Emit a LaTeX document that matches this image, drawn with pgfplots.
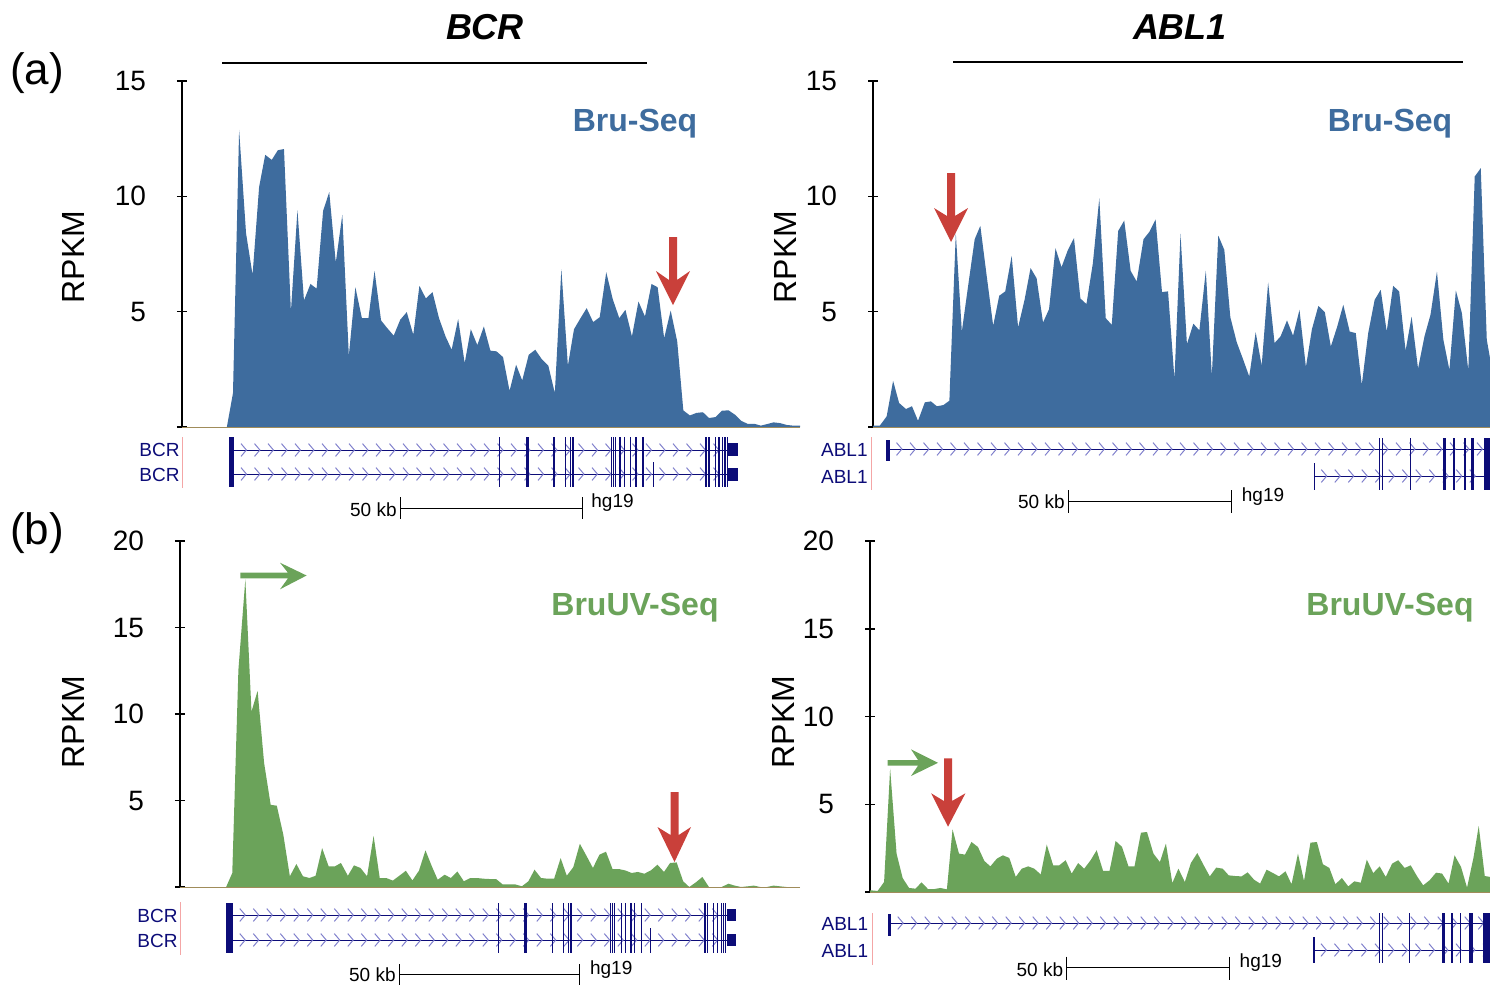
\documentclass[border=0pt]{standalone}
\usepackage{pgfplots}
\pgfplotsset{compat=1.18}
\usepackage{fontspec}
\setmainfont{Liberation Sans}
\usetikzlibrary{decorations.markings}
\definecolor{bru}{HTML}{3E6C9E}
\definecolor{uv}{HTML}{6BA35A}
\definecolor{arr}{HTML}{C9403A}
\definecolor{navy}{HTML}{0C0C78}
\definecolor{lav}{HTML}{8080CC}
\definecolor{pinkl}{HTML}{F4A6A6}
\definecolor{basec}{HTML}{A08C5A}
\tikzset{chev/.style={postaction={decorate},decoration={markings,
  mark=between positions 5pt and -2pt step 6.75pt with {\draw[lav,line width=0.5pt] (-1.5pt,3.2pt)--(1.2pt,0pt)--(-1.5pt,-3.2pt);}}}}
\pgfplotsset{track/.style={scale only axis, axis x line=none, axis y line=left,
  axis line style={-,line width=0.75pt,black}, tick align=center, major tick length=5pt,
  tick style={line width=0.75pt,black},
  yticklabel style={font=\fontsize{14}{16}\selectfont,anchor=east,xshift=-12pt},
  /pgf/number format/assume math mode=true, ymin=0, clip=true}}
\begin{document}
\begin{tikzpicture}
\useasboundingbox (0,0) rectangle (745pt,-492.5pt);
% ---------- A1: BCR Bru-Seq
\begin{axis}[track, at={(91pt,-213.5pt)}, anchor=south west, width=309pt, height=173pt,
  xmin=30, xmax=1545, ymax=15, ytick={0,5,10,15}, yticklabels={,5,10,15}]
\addplot[fill=bru,draw=none] coordinates {(30,0)(140,0)(155,1.47)(170,12.88)(187,8.4)(203,6.6)(219,10.4)(234,11.8)(250,11.58)(265,12.0)(280,12.05)(297,5.0)(313,9.4)(329,5.49)(345,6.2)(360,6.0)(376,9.38)(391,10.18)(407,7.13)(423,9.2)(439,3.09)(455,6.06)(471,4.72)(487,4.72)(502,6.77)(518,4.62)(533,4.29)(549,3.96)(565,4.65)(581,4.98)(597,4.0)(612,6.12)(628,5.57)(644,5.85)(660,4.72)(676,3.93)(691,3.35)(707,4.68)(723,2.77)(738,4.24)(754,3.55)(770,4.36)(786,3.31)(801,3.28)(817,3.03)(833,1.57)(849,2.7)(864,2.02)(880,3.13)(896,3.35)(912,2.94)(928,2.66)(944,1.47)(960,6.84)(976,2.66)(991,4.24)(1007,4.72)(1022,5.15)(1038,4.55)(1054,4.76)(1070,6.71)(1086,5.54)(1102,4.72)(1117,5.08)(1133,3.93)(1149,5.44)(1165,4.79)(1181,6.2)(1196,6.06)(1212,3.85)(1228,5.05)(1244,3.71)(1259,0.72)(1275,0.5)(1291,0.61)(1307,0.64)(1322,0.39)(1338,0.43)(1354,0.71)(1370,0.72)(1386,0.53)(1401,0.27)(1417,0.13)(1433,0.14)(1449,0.06)(1465,0.13)(1480,0.2)(1496,0.17)(1512,0.09)(1528,0.06)(1545,0.06)} \closedcycle;
\addplot[basec,line width=0.5pt] coordinates {(30,0)(1545,0)};
\end{axis}
% ---------- A2: ABL1 Bru-Seq
\begin{axis}[track, at={(436.5pt,-213.5pt)}, anchor=south west, width=308.5pt, height=173pt,
  xmin=33, xmax=1568, ymax=15, ytick={0,5,10,15}, yticklabels={,5,10,15}]
\addplot[fill=bru,draw=none] coordinates {(33,0.06)(50,0.06)(67,0.46)(83,2.0)(98,1.04)(115,0.78)(130,0.9)(145,0.27)(162,1.07)(177,1.11)(192,0.9)(208,0.95)(223,1.14)(239,8.4)(254,4.14)(270,6.16)(286,8.14)(300,8.72)(316,6.53)(332,4.39)(347,5.69)(362,5.88)(378,7.42)(394,4.32)(410,5.51)(425,6.89)(440,6.45)(456,4.53)(471,5.11)(487,7.75)(502,6.93)(518,7.68)(533,8.19)(549,5.57)(564,5.33)(580,7.1)(596,9.92)(612,4.72)(627,4.43)(643,8.5)(658,8.95)(674,6.77)(689,6.31)(706,8.14)(721,8.47)(736,9.0)(752,5.85)(767,5.88)(783,2.08)(798,8.37)(814,3.59)(830,4.48)(845,4.19)(861,6.78)(876,2.22)(892,8.3)(907,7.68)(922,4.76)(938,3.67)(954,2.92)(969,2.19)(985,4.11)(1000,2.66)(1016,6.27)(1032,3.64)(1047,3.93)(1063,4.62)(1078,3.96)(1094,5.08)(1110,2.6)(1125,4.24)(1141,5.25)(1157,4.98)(1172,3.49)(1188,4.36)(1203,5.3)(1219,4.14)(1234,4.07)(1249,1.83)(1265,4.07)(1281,5.51)(1296,5.95)(1311,4.14)(1327,6.12)(1342,5.88)(1358,3.31)(1373,4.79)(1389,2.53)(1405,3.93)(1420,4.87)(1436,6.74)(1452,3.78)(1467,2.48)(1483,5.92)(1498,4.94)(1514,2.45)(1530,10.86)(1545,11.22)(1560,3.78)(1568,2.99)} \closedcycle;
\addplot[basec,line width=0.5pt] coordinates {(33,0)(1568,0)};
\end{axis}
% ---------- B1: BCR BruUV-Seq
\begin{axis}[track, at={(90pt,-443.5pt)}, anchor=south west, width=310pt, height=173pt,
  xmin=27, xmax=1545, ymax=20, ytick={0,5,10,15,20}, yticklabels={,5,10,15,20}]
\addplot[fill=uv,draw=none] coordinates {(27,0)(140,0)(155,0.81)(170,12.55)(187,17.79)(202,10.14)(217,11.34)(233,7.16)(249,4.75)(264,4.7)(280,3.02)(296,0.62)(312,1.33)(328,0.62)(344,0.52)(359,0.65)(375,2.25)(391,1.19)(406,1.19)(421,1.39)(438,0.65)(453,1.25)(469,1.1)(485,0.62)(501,2.96)(516,0.52)(532,0.52)(548,0.37)(564,0.65)(580,0.94)(596,0.38)(612,0.94)(628,2.12)(643,1.23)(658,0.42)(675,0.71)(690,0.52)(706,0.9)(722,0.33)(738,0.52)(754,0.52)(770,0.48)(786,0.46)(801,0.46)(817,0.15)(833,0.15)(848,0.15)(864,0.04)(880,0.33)(895,1.0)(911,0.52)(927,0.48)(943,0.48)(959,1.67)(974,0.65)(990,1.15)(1006,2.5)(1022,1.81)(1038,1.1)(1054,1.87)(1070,2.04)(1086,1.04)(1101,1.04)(1117,0.96)(1133,0.81)(1148,0.87)(1164,0.77)(1180,0.96)(1196,1.29)(1212,0.87)(1227,1.39)(1243,1.42)(1259,0.33)(1274,0)(1290,0.27)(1306,0.58)(1322,0)(1338,0)(1353,0)(1370,0.19)(1385,0.08)(1401,0)(1417,0.04)(1432,0.08)(1448,0)(1464,0)(1480,0.08)(1496,0.04)(1512,0)(1545,0)} \closedcycle;
\addplot[basec,line width=0.5pt] coordinates {(27,0)(1545,0)};
\end{axis}
% ---------- B2: ABL1 BruUV-Seq
\begin{axis}[track, at={(435pt,-446pt)}, anchor=south west, width=310pt, height=175.5pt,
  xmin=28, xmax=1568, ymax=20, ytick={0,5,10,15,20}, yticklabels={,5,10,15,20}]
\addplot[fill=uv,draw=none] coordinates {(28,0.1)(47,0.06)(63,0.57)(78,7.03)(94,2.19)(109,0.8)(125,0.23)(141,0.19)(156,0.55)(172,0.17)(188,0.17)(203,0.23)(219,0.15)(233,3.57)(249,2.19)(264,2.13)(280,2.85)(296,2.57)(312,1.77)(327,1.46)(343,1.9)(358,2.09)(374,1.94)(390,0.86)(405,1.33)(421,1.46)(436,1.33)(452,1.0)(467,2.7)(483,1.52)(498,1.52)(514,1.81)(529,1.05)(545,1.65)(560,1.33)(576,1.81)(591,2.38)(607,1.2)(623,1.2)(638,2.91)(654,2.57)(670,1.46)(685,1.46)(701,3.38)(716,3.42)(732,2.19)(748,1.71)(763,2.76)(779,0.51)(794,1.33)(810,0.57)(825,1.65)(841,2.22)(857,1.52)(872,0.89)(888,1.39)(904,1.33)(919,0.95)(935,0.91)(951,0.89)(966,1.12)(982,0.7)(997,0.48)(1013,1.27)(1029,1.08)(1044,0.89)(1060,1.18)(1075,0.44)(1091,2.19)(1106,0.63)(1122,2.81)(1138,2.85)(1153,1.58)(1169,1.37)(1184,0.44)(1200,0.8)(1216,0.32)(1231,0.61)(1247,0.53)(1262,1.84)(1278,1.08)(1294,1.46)(1309,0.86)(1325,1.62)(1340,1.81)(1356,1.37)(1371,1.52)(1387,0.89)(1402,0.38)(1418,0.67)(1434,1.1)(1449,1.05)(1465,0.48)(1480,2.09)(1496,1.43)(1511,0.25)(1527,1.96)(1540,3.76)(1555,0.91)(1568,0.86)} \closedcycle;
\addplot[basec,line width=0.5pt] coordinates {(28,0)(1568,0)};
\end{axis}
% ---------- overlay in pixel units
\begin{axis}[scale only axis, hide axis, at={(372.5pt,-246.25pt)}, anchor=center,
  width=745pt, height=492.5pt, xmin=0, xmax=1490, ymin=0, ymax=985, y dir=reverse,
  enlargelimits=false, clip=false, unbounded coords=jump]
% titles
\node[font=\fontsize{18}{20}\selectfont\bfseries\itshape] at (axis cs:485,27) {BCR};
\node[font=\fontsize{18}{20}\selectfont\bfseries\itshape] at (axis cs:1180,27) {ABL1};
\addplot[black,line width=1pt] coordinates {(222,63)(647,63)};
\addplot[black,line width=1pt] coordinates {(953,62)(1463,62)};
\node[font=\fontsize{22}{24}\selectfont] at (axis cs:37,73) {(a)};
\node[font=\fontsize{22}{24}\selectfont] at (axis cs:37,533) {(b)};
% axis labels
\node[rotate=90,font=\fontsize{16}{18}\selectfont] at (axis cs:73,257) {RPKM};
\node[rotate=90,font=\fontsize{16}{18}\selectfont] at (axis cs:785,257) {RPKM};
\node[rotate=90,font=\fontsize{16}{18}\selectfont] at (axis cs:73,722) {RPKM};
\node[rotate=90,font=\fontsize{16}{18}\selectfont] at (axis cs:783,722) {RPKM};
% series names
\node[text=bru,font=\fontsize{16}{18}\selectfont\bfseries] at (axis cs:635,124) {Bru-Seq};
\node[text=bru,font=\fontsize{16}{18}\selectfont\bfseries] at (axis cs:1390,124) {Bru-Seq};
\node[text=uv,font=\fontsize{16}{18}\selectfont\bfseries] at (axis cs:635,608) {BruUV-Seq};
\node[text=uv,font=\fontsize{16}{18}\selectfont\bfseries] at (axis cs:1390,608) {BruUV-Seq};
% arrows
\addplot[fill=arr,draw=none] coordinates {(669,237)(677,237)(677,280)(690,271)(673,305)(656,271)(669,280)} --cycle;
\addplot[fill=arr,draw=none] coordinates {(947,173)(955,173)(955,216)(968,208)(951,242)(934,208)(947,216)} --cycle;
\addplot[fill=arr,draw=none] coordinates {(670.5,792)(678.7,792)(678.7,835)(691,827)(674.5,862)(657.5,827)(670.5,835)} --cycle;
\addplot[fill=arr,draw=none] coordinates {(944,758.3)(952,758.3)(952,801)(965.4,793.3)(948,826.7)(931.2,793.3)(944,801)} --cycle;
\addplot[fill=uv,draw=none] coordinates {(240.4,572.7)(288,572.7)(280,562.7)(306.6,575.5)(280,589.3)(288,578.3)(240.4,578.3)} --cycle;
\addplot[fill=uv,draw=none] coordinates {(887.7,760)(918,760)(911,749.3)(938,762.8)(911,776)(918,765.7)(887.7,765.7)} --cycle;
% ---- gene track A1 (BCR)
\node[anchor=east,text=navy,font=\fontsize{9.5}{10}\selectfont,inner sep=0pt] at (axis cs:180,450) {BCR};
\node[anchor=east,text=navy,font=\fontsize{9.5}{10}\selectfont,inner sep=0pt] at (axis cs:180,475) {BCR};
\addplot[pinkl,line width=0.5pt] coordinates {(182.5,437)(182.5,488)};
\addplot[navy,line width=0.5pt,chev] coordinates {(234,450)(728,450)};
\addplot[navy,line width=0.5pt,chev] coordinates {(234,474)(728,474)};
\addplot[fill=navy,draw=none] coordinates {(229,437)(234,437)(234,487)(229,487)} --cycle;
\addplot[fill=navy,draw=none] coordinates {(728,443)(738,443)(738,456)(728,456)} --cycle;
\addplot[fill=navy,draw=none] coordinates {(728,468)(738,468)(738,481)(728,481)} --cycle;
\addplot[navy,line width=0.6pt] coordinates {(499.6,437)(499.6,487)(499.6,nan)(553.9,437)(553.9,487)(553.9,nan)(565.6,437)(565.6,487)(565.6,nan)(570.8,437)(570.8,487)(570.8,nan)(573.0,437)(573.0,487)(573.0,nan)(611.2,437)(611.2,487)(611.2,nan)(613.8,437)(613.8,487)(613.8,nan)(615.5,437)(615.5,487)(615.5,nan)(619.9,437)(619.9,487)(619.9,nan)(624.2,437)(624.2,487)(624.2,nan)(630.7,437)(630.7,487)(630.7,nan)(635.9,437)(635.9,487)(635.9,nan)(642.9,437)(642.9,487)(642.9,nan)(705.9,437)(705.9,487)(705.9,nan)(708.9,437)(708.9,487)(708.9,nan)(715.4,437)(715.4,487)(715.4,nan)(718.9,437)(718.9,487)(718.9,nan)(722.4,437)(722.4,487)(722.4,nan)(724.9,437)(724.9,487)(724.9,nan)(727.6,437)(727.6,487)(727.6,nan)(653.3,462)(653.3,487)};
\addplot[navy,line width=1.3pt] coordinates {(527.4,437)(527.4,487)};
% scale bar A1
\addplot[black,line width=0.5pt] coordinates {(400.5,508)(582,508)(582,nan)(400.5,497)(400.5,519)(400.5,nan)(582,497)(582,519)};
\node[anchor=east,font=\fontsize{9.5}{10}\selectfont,inner sep=1pt] at (axis cs:399,510) {50 kb};
\node[anchor=west,font=\fontsize{9.5}{10}\selectfont,inner sep=0pt] at (axis cs:591,503) {hg19};
% ---- gene track A2 (ABL1)
\node[anchor=east,text=navy,font=\fontsize{9.5}{10}\selectfont,inner sep=0pt] at (axis cs:868,450) {ABL1};
\node[anchor=east,text=navy,font=\fontsize{9.5}{10}\selectfont,inner sep=0pt] at (axis cs:868,477) {ABL1};
\addplot[pinkl,line width=0.5pt] coordinates {(871.5,437)(871.5,490)};
\addplot[navy,line width=0.5pt,chev] coordinates {(889.5,449)(1490,449)};
\addplot[navy,line width=0.5pt,chev] coordinates {(1314.3,476)(1490,476)};
\addplot[fill=navy,draw=none] coordinates {(886,440)(889.5,440)(889.5,461)(886,461)} --cycle;
\addplot[navy,line width=0.75pt] coordinates {(1379.4,438)(1379.4,490)(1379.4,nan)(1382.6,438)(1382.6,490)(1382.6,nan)(1410.6,438)(1410.6,490)(1410.6,nan)(1454,438)(1454,490)(1454,nan)(1464.8,438)(1464.8,490)(1464.8,nan)(1314.3,463)(1314.3,490)};
\addplot[fill=navy,draw=none] coordinates {(1443.1,438)(1446.4,438)(1446.4,490)(1443.1,490)} --cycle;
\addplot[fill=navy,draw=none] coordinates {(1471.1,438)(1474,438)(1474,490)(1471.1,490)} --cycle;
\addplot[fill=navy,draw=none] coordinates {(1484.3,438)(1490,438)(1490,490)(1484.3,490)} --cycle;
\addplot[black,line width=0.5pt] coordinates {(1068,501)(1231.5,501)(1231.5,nan)(1068,490)(1068,513)(1068,nan)(1231.5,490)(1231.5,513)};
\node[anchor=east,font=\fontsize{9.5}{10}\selectfont,inner sep=1pt] at (axis cs:1067,502) {50 kb};
\node[anchor=west,font=\fontsize{9.5}{10}\selectfont,inner sep=0pt] at (axis cs:1241.5,497) {hg19};
% ---- gene track B1 (BCR)
\node[anchor=east,text=navy,font=\fontsize{9.5}{10}\selectfont,inner sep=0pt] at (axis cs:178,916) {BCR};
\node[anchor=east,text=navy,font=\fontsize{9.5}{10}\selectfont,inner sep=0pt] at (axis cs:178,941) {BCR};
\addplot[pinkl,line width=0.5pt] coordinates {(180.7,902)(180.7,955)};
\addplot[navy,line width=0.5pt,chev] coordinates {(232.8,915)(726.7,915)};
\addplot[navy,line width=0.5pt,chev] coordinates {(232.8,940)(726.7,940)};
\addplot[fill=navy,draw=none] coordinates {(226.3,903)(232.8,903)(232.8,953)(226.3,953)} --cycle;
\addplot[fill=navy,draw=none] coordinates {(726.7,909)(735.8,909)(735.8,921)(726.7,921)} --cycle;
\addplot[fill=navy,draw=none] coordinates {(726.7,934)(735.8,934)(735.8,946)(726.7,946)} --cycle;
\addplot[navy,line width=0.6pt] coordinates {(498.6,903)(498.6,953)(498.6,nan)(552.4,903)(552.4,953)(552.4,nan)(563.6,903)(563.6,953)(563.6,nan)(568.8,903)(568.8,953)(568.8,nan)(571.0,903)(571.0,953)(571.0,nan)(610.5,903)(610.5,953)(610.5,nan)(612.7,903)(612.7,953)(612.7,nan)(614.8,903)(614.8,953)(614.8,nan)(621.3,903)(621.3,953)(621.3,nan)(625.2,903)(625.2,953)(625.2,nan)(630.9,903)(630.9,953)(630.9,nan)(634.3,903)(634.3,953)(634.3,nan)(641.7,903)(641.7,953)(641.7,nan)(705.0,903)(705.0,953)(705.0,nan)(707.6,903)(707.6,953)(707.6,nan)(713.3,903)(713.3,953)(713.3,nan)(717.6,903)(717.6,953)(717.6,nan)(721.1,903)(721.1,953)(721.1,nan)(723.2,903)(723.2,953)(723.2,nan)(725.8,903)(725.8,953)(725.8,nan)(650.4,928)(650.4,953)};
\addplot[navy,line width=1.3pt] coordinates {(525.5,903)(525.5,953)};
\addplot[black,line width=0.5pt] coordinates {(399.3,974)(579.7,974)(579.7,nan)(399.3,964)(399.3,985)(399.3,nan)(579.7,964)(579.7,985)};
\node[anchor=east,font=\fontsize{9.5}{10}\selectfont,inner sep=1pt] at (axis cs:398,975) {50 kb};
\node[anchor=west,font=\fontsize{9.5}{10}\selectfont,inner sep=0pt] at (axis cs:589.7,970) {hg19};
% ---- gene track B2 (ABL1)
\node[anchor=east,text=navy,font=\fontsize{9.5}{10}\selectfont,inner sep=0pt] at (axis cs:868.5,924) {ABL1};
\node[anchor=east,text=navy,font=\fontsize{9.5}{10}\selectfont,inner sep=0pt] at (axis cs:868.5,951) {ABL1};
\addplot[pinkl,line width=0.5pt] coordinates {(872.9,913)(872.9,965)};
\addplot[navy,line width=0.5pt,chev] coordinates {(890.7,923)(1490,923)};
\addplot[navy,line width=0.5pt,chev] coordinates {(1313.9,950)(1490,950)};
\addplot[fill=navy,draw=none] coordinates {(888,914)(890.7,914)(890.7,936)(888,936)} --cycle;
\addplot[navy,line width=0.75pt] coordinates {(1379.4,913)(1379.4,963)(1379.4,nan)(1382.6,913)(1382.6,963)(1382.6,nan)(1409.3,913)(1409.3,963)(1409.3,nan)(1451.8,913)(1451.8,963)(1451.8,nan)(1460.5,913)(1460.5,963)(1460.5,nan)(1313.9,937)(1313.9,963)};
\addplot[fill=navy,draw=none] coordinates {(1441.8,913)(1445,913)(1445,963)(1441.8,963)} --cycle;
\addplot[fill=navy,draw=none] coordinates {(1469.2,913)(1472.6,913)(1472.6,963)(1469.2,963)} --cycle;
\addplot[fill=navy,draw=none] coordinates {(1483,913)(1490,913)(1490,963)(1483,963)} --cycle;
\addplot[black,line width=0.5pt] coordinates {(1066.7,967.7)(1229.3,967.7)(1229.3,nan)(1066.7,956.7)(1066.7,980)(1066.7,nan)(1229.3,956.7)(1229.3,980)};
\node[anchor=east,font=\fontsize{9.5}{10}\selectfont,inner sep=1pt] at (axis cs:1065.5,970) {50 kb};
\node[anchor=west,font=\fontsize{9.5}{10}\selectfont,inner sep=0pt] at (axis cs:1239.3,963) {hg19};
\end{axis}
\end{tikzpicture}
\end{document}
